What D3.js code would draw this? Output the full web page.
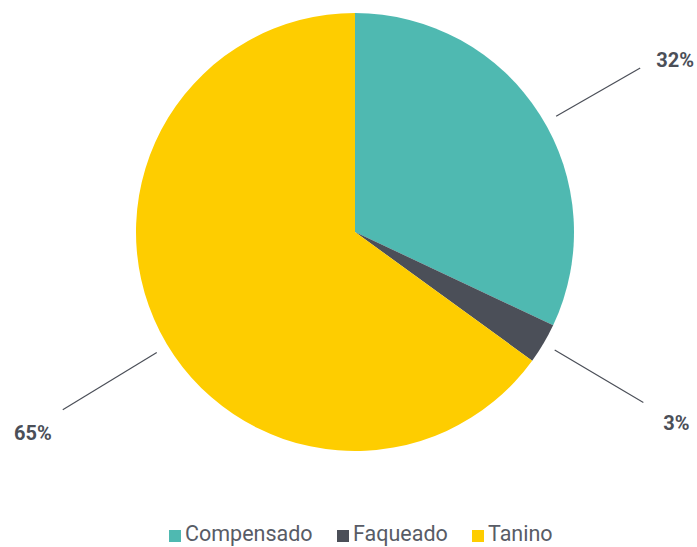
<!DOCTYPE html>
<html>
<head>
<style>
  body { margin: 0; background: #fff; }
  svg { font-family: Roboto, sans-serif; }
</style>
</head>
<body>
<svg></svg>
<script src="https://d3js.org/d3.v7.min.js"></script>
<script>
  const categories = ["Compensado", "Faqueado", "Tanino"];
  const values = [32, 3, 65];
  const labels = ["32%", "3%", "65%"];
  const colors = ["#4fb9b1", "#4b4f58", "#fecd00"];

  // layout tweaks for leader lines / labels (degrees, px)
  const angleShift = [2.5, 0, -4.3];
  const lineEndR = [329, 335, 342];
  const labelDx = [16, 20, -11];
  const labelDy = [-1, 27.5, 30];

  const width = 697, height = 547;
  const cx = 355, cy = 232, radius = 219;

  const svg = d3.select("svg")
    .attr("width", width)
    .attr("height", height);

  const pie = d3.pie().sort(null).value(d => d);
  const arcs = pie(values);

  const arc = d3.arc().innerRadius(0).outerRadius(radius);

  function polar(d, i, r) {
    const a = (d.startAngle + d.endAngle) / 2 + angleShift[i] * Math.PI / 180;
    return [r * Math.sin(a), -r * Math.cos(a)];
  }

  const g = svg.append("g").attr("transform", "translate(" + cx + "," + cy + ")");

  g.selectAll("path.slice")
    .data(arcs)
    .enter()
    .append("path")
    .attr("class", "slice")
    .attr("d", arc)
    .attr("fill", (d, i) => colors[i]);

  // leader lines
  g.selectAll("line.leader")
    .data(arcs)
    .enter()
    .append("line")
    .attr("class", "leader")
    .attr("x1", (d, i) => polar(d, i, 232)[0])
    .attr("y1", (d, i) => polar(d, i, 232)[1])
    .attr("x2", (d, i) => polar(d, i, lineEndR[i])[0])
    .attr("y2", (d, i) => polar(d, i, lineEndR[i])[1])
    .attr("stroke", "#4b4f58")
    .attr("stroke-width", 1.2);

  g.selectAll("text.pct")
    .data(arcs)
    .enter()
    .append("text")
    .attr("class", "pct")
    .attr("x", (d, i) => polar(d, i, lineEndR[i])[0] + labelDx[i])
    .attr("y", (d, i) => polar(d, i, lineEndR[i])[1] + labelDy[i])
    .attr("text-anchor", (d, i) => labelDx[i] > 0 ? "start" : "end")
    .attr("font-size", 20)
    .attr("font-weight", "bold")
    .attr("fill", "#4b4f58")
    .text((d, i) => labels[i]);

  // legend
  const legendX = [169, 337, 472];
  const legend = svg.selectAll("g.legend")
    .data(categories)
    .enter()
    .append("g")
    .attr("class", "legend")
    .attr("transform", (d, i) => "translate(" + legendX[i] + ",541)");

  legend.append("rect")
    .attr("x", 0)
    .attr("y", -11)
    .attr("width", 12)
    .attr("height", 12)
    .attr("fill", (d, i) => colors[i]);

  legend.append("text")
    .attr("x", 16)
    .attr("y", 0)
    .attr("font-size", 21.5)
    .attr("fill", "#585c66")
    .text(d => d);
</script>
</body>
</html>
